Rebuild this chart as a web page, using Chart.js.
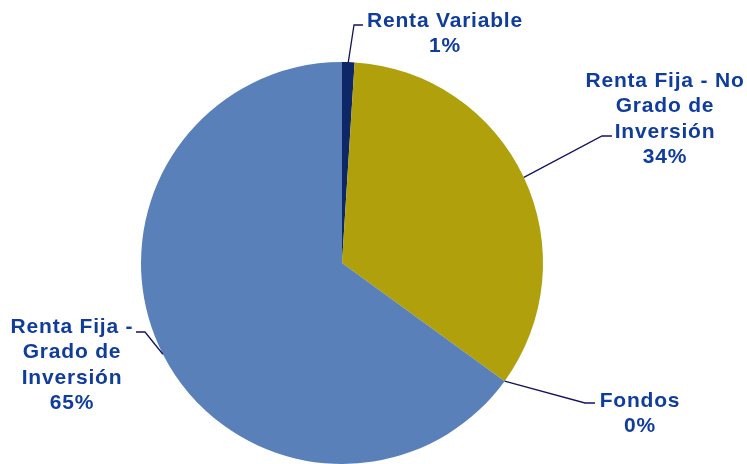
<!DOCTYPE html>
<html>
<head>
<meta charset="utf-8">
<script src="https://cdn.jsdelivr.net/npm/chart.js@4.4.0/dist/chart.umd.min.js"></script>
<style>
  html, body { margin: 0; padding: 0; background: #fff; }
  #wrap { width: 747px; height: 464px; }
</style>
</head>
<body>
<div id="wrap"><canvas id="pieChart" width="747" height="464"></canvas></div>
<script>
// Portfolio split by asset type (percent)
const categories = ["Renta Variable", "Renta Fija - No Grado de Inversión", "Fondos", "Renta Fija - Grado de Inversión"];
const values = [1, 34, 0, 65];
const sliceColors = ["#0E2766", "#AFA00C", "#5A80BA", "#5A80BA"];

// Label text split into lines the way they are printed
const labelLines = [
    ["Renta Variable"],
    ["Renta Fija - No", "Grado de", "Inversión"],
    ["Fondos"],
    ["Renta Fija -", "Grado de", "Inversión"]
];

// Where each label sits: elbow of the leader line, end of the leader, text center x, first baseline
const labelLayout = [
    { elbow: [354, 25], end: [363, 25], tx: 445, ty: 27 },
    { elbow: [602, 136], end: [612, 136], tx: 665, ty: 87 },
    { elbow: [585, 403], end: [595, 403], tx: 640, ty: 407 },
    { elbow: [145, 332], end: [136, 332], tx: 72, ty: 333 }
];

const textColor = "#103C9C";
const lineColor = "#14145E";

const pieLabels = {
    id: "pieLabels",
    afterDatasetsDraw(chart) {
        const ctx = chart.ctx;
        const arcs = chart.getDatasetMeta(0).data;
        ctx.save();
        arcs.forEach((arc, i) => {
            const p = arc.getProps(["x", "y", "startAngle", "endAngle", "outerRadius"], true);
            const mid = (p.startAngle + p.endAngle) / 2;
            const ax = p.x + Math.cos(mid) * p.outerRadius;
            const ay = p.y + Math.sin(mid) * p.outerRadius;
            const lay = labelLayout[i];

            ctx.strokeStyle = lineColor;
            ctx.lineWidth = 1.3;
            ctx.beginPath();
            ctx.moveTo(ax, ay);
            ctx.lineTo(lay.elbow[0], lay.elbow[1]);
            ctx.lineTo(lay.end[0], lay.end[1]);
            ctx.stroke();

            const lines = labelLines[i].concat([values[i] + "%"]);
            ctx.fillStyle = textColor;
            ctx.font = "bold 21px 'Liberation Sans', Arial, sans-serif";
            ctx.letterSpacing = "0.8px";
            ctx.textAlign = "center";
            ctx.textBaseline = "alphabetic";
            lines.forEach((t, k) => {
                ctx.fillText(t, lay.tx, lay.ty + k * 25.4);
            });
        });
        ctx.restore();
    }
};

new Chart(document.getElementById("pieChart").getContext("2d"), {
    type: "pie",
    data: {
        labels: categories,
        datasets: [{
            data: values,
            backgroundColor: sliceColors,
            borderWidth: 0,
            offset: 0,
            hoverOffset: 0
        }]
    },
    options: {
        responsive: false,
        animation: false,
        layout: { padding: { top: 62, left: 141, right: 204, bottom: 0 } },
        plugins: {
            legend: { display: false },
            tooltip: { enabled: false }
        }
    },
    plugins: [pieLabels]
});
</script>
</body>
</html>
